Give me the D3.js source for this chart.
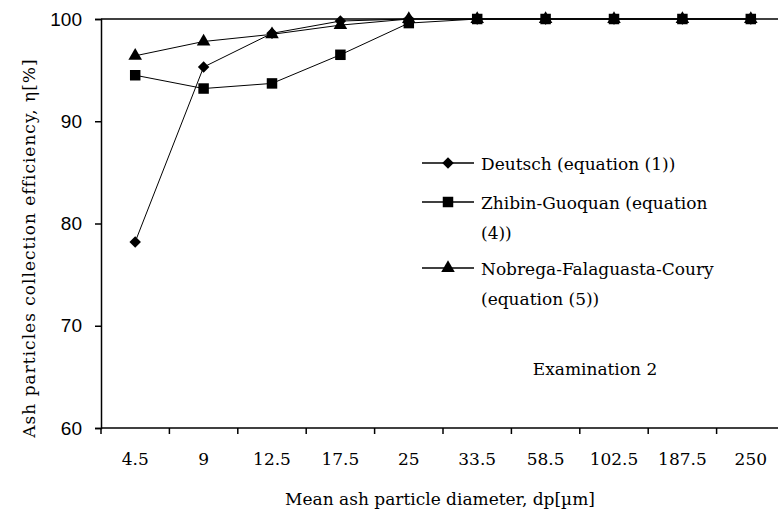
<!DOCTYPE html>
<html>
<head>
<meta charset="utf-8">
<script src="https://cdn.jsdelivr.net/npm/d3@7"></script>
<style>
  body { margin: 0; background: #fff; }
  svg { display: block; font-family: "DejaVu Serif", serif; }
</style>
</head>
<body>
<div id="chart"></div>
<script>
const categories = ["4.5", "9", "12.5", "17.5", "25", "33.5", "58.5", "102.5", "187.5", "250"];
const deutsch = [78.2, 95.3, 98.6, 99.8, 100, 100, 100, 100, 100, 100];
const zhibin = [94.5, 93.2, 93.7, 96.5, 99.6, 100, 100, 100, 100, 100];
const nobrega = [96.4, 97.8, 98.5, 99.4, 100, 100, 100, 100, 100, 100];
const yTicks = [60, 70, 80, 90, 100];

const width = 778;
const height = 519;
const margin = { top: 19, right: -7, bottom: 91, left: 101 };

const svg = d3.select("#chart")
    .append("svg")
    .attr("width", width)
    .attr("height", height);

const xScale = d3.scaleBand()
    .domain(categories)
    .range([margin.left, width - margin.right])
    .padding(0);

const yScale = d3.scaleLinear()
    .domain([60, 100])
    .range([height - margin.bottom, margin.top]);

// top border line at 100
svg.append("line")
    .attr("x1", margin.left)
    .attr("x2", width - margin.right)
    .attr("y1", yScale(100))
    .attr("y2", yScale(100))
    .attr("stroke", "#000")
    .attr("stroke-width", 1.5);

// x axis, ticks sit on the category boundaries
const xAxisG = svg.append("g")
    .attr("transform", `translate(0,${yScale(60)})`);
xAxisG.append("line")
    .attr("x1", margin.left).attr("x2", width - margin.right)
    .attr("stroke", "#000").attr("stroke-width", 1.5);
const bounds = categories.map(c => xScale(c)).concat([xScale(categories[categories.length - 1]) + xScale.bandwidth()]);
xAxisG.selectAll(".xtick")
    .data(bounds)
    .enter().append("line")
    .attr("x1", d => d).attr("x2", d => d)
    .attr("y1", 0).attr("y2", 6)
    .attr("stroke", "#000").attr("stroke-width", 1.5);
xAxisG.selectAll(".xlabel")
    .data(categories)
    .enter().append("text")
    .attr("x", d => xScale(d) + xScale.bandwidth() / 2)
    .attr("y", 37)
    .attr("text-anchor", "middle")
    .attr("font-size", "17px")
    .text(d => d);

const yAxis = d3.axisLeft(yScale)
    .tickValues(yTicks)
    .tickSize(6)
    .tickPadding(13)
    .tickFormat(d3.format("d"));
const yAxisG = svg.append("g")
    .attr("transform", `translate(${margin.left},0)`)
    .call(yAxis);
yAxisG.select(".domain").attr("stroke-width", 1.5);
yAxisG.selectAll(".tick line").attr("stroke-width", 1.5);
yAxisG.selectAll(".tick text")
    .attr("font-family", "'Liberation Sans', Arial, sans-serif")
    .attr("font-size", "19px")
    .attr("fill", "#000");

// axis titles
svg.append("text")
    .attr("x", 440)
    .attr("y", 505)
    .attr("text-anchor", "middle")
    .attr("font-size", "17px")
    .text("Mean ash particle diameter, dp[\u00b5m]");

svg.append("text")
    .attr("transform", `translate(35,248) rotate(-90)`)
    .attr("text-anchor", "middle")
    .attr("font-size", "17px")
    .attr("letter-spacing", "1px")
    .text("Ash particles collection efficiency, \u03b7[%]");

const cx = d => xScale(d) + xScale.bandwidth() / 2;

// square-ish rhombus marker
const rhombus = {
    draw(ctx, size) {
        const r = Math.sqrt(size / 2);
        ctx.moveTo(0, -r);
        ctx.lineTo(r, 0);
        ctx.lineTo(0, r);
        ctx.lineTo(-r, 0);
        ctx.closePath();
    }
};

const series = [
    { name: "Deutsch (equation (1))", values: deutsch, symbol: rhombus, size: 66 },
    { name: "Zhibin-Guoquan (equation\n(4))", values: zhibin, symbol: d3.symbolSquare, size: 110 },
    { name: "Nobrega-Falaguasta-Coury\n(equation (5))", values: nobrega, symbol: d3.symbolTriangle, size: 80 }
];

const line = d3.line()
    .x((d, i) => cx(categories[i]))
    .y(d => yScale(d));

series.forEach(s => {
    svg.append("path")
        .datum(s.values)
        .attr("fill", "none")
        .attr("stroke", "#000")
        .attr("stroke-width", 1)
        .attr("d", line);
    svg.selectAll(null)
        .data(s.values)
        .enter().append("path")
        .attr("transform", (d, i) => `translate(${cx(categories[i])},${yScale(d)})`)
        .attr("d", d3.symbol().type(s.symbol).size(s.size))
        .attr("fill", "#000");
});

// legend
const legendY = [163, 202, 268];
series.forEach((s, i) => {
    const g = svg.append("g").attr("transform", `translate(422,${legendY[i]})`);
    g.append("line")
        .attr("x1", 0).attr("x2", 52)
        .attr("stroke", "#000").attr("stroke-width", 1.5);
    g.append("path")
        .attr("transform", "translate(26,0)")
        .attr("d", d3.symbol().type(s.symbol).size(s.size))
        .attr("fill", "#000");
    const t = g.append("text")
        .attr("y", 7)
        .attr("font-size", "17px");
    s.name.split("\n").forEach((ln, j) => {
        t.append("tspan").attr("x", 59).attr("dy", j === 0 ? 0 : 30).text(ln);
    });
});

svg.append("text")
    .attr("x", 595)
    .attr("y", 375)
    .attr("text-anchor", "middle")
    .attr("font-size", "17px")
    .text("Examination 2");
</script>
</body>
</html>
